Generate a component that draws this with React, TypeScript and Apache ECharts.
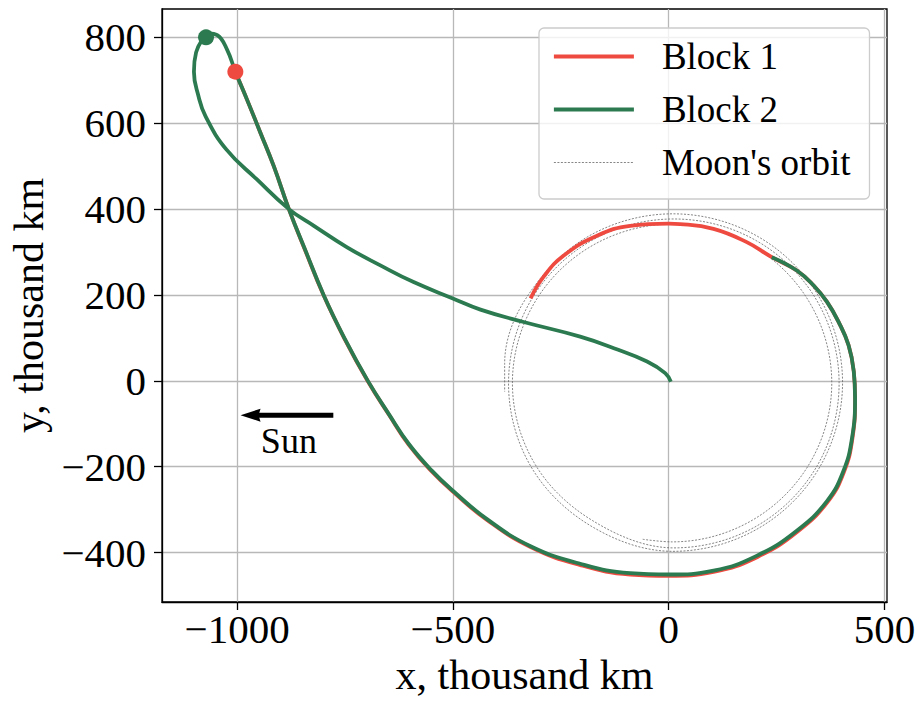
import React, { useEffect, useRef } from "react";
import * as echarts from "echarts";

const FONT = "'Liberation Serif', 'Times New Roman', Times, serif";

// Block 1 (red) trajectory, thousand km
const block1Path: number[][] = [
  [-1004, 720], [-977, 655], [-946, 578], [-915, 500], [-880, 400], [-843, 306],
  [-799, 198], [-751, 98], [-697, -1], [-648, -79], [-602, -149], [-550, -210],
  [-500, -258], [-421, -324], [-320, -387], [-205, -429], [-89, -451], [0, -454],
  [104, -445], [206, -410], [299, -351], [369, -281], [407, -210], [426, -133],
  [432, -40], [429, 22], [417, 83], [394, 137], [367, 184], [336, 222], [297, 257],
  [239, 288], [181, 323], [104, 354], [27, 365], [0, 366], [-89, 361], [-166, 338],
  [-243, 292], [-290, 242], [-320, 192],
];

// Block 2 (green) trajectory, thousand km
const block2Path: number[][] = [
  [5, -2], [-8, 18], [-50, 45], [-127, 76], [-205, 103], [-336, 137], [-436, 166],
  [-500, 192], [-591, 230], [-668, 269], [-745, 311], [-822, 361], [-880, 400],
  [-954, 469], [-1025, 539], [-1073, 616], [-1090, 665], [-1100, 720], [-1095, 765],
  [-1081, 794], [-1066, 809], [-1046, 805], [-1023, 771], [-1004, 720], [-977, 655],
  [-946, 578], [-915, 500], [-880, 400], [-843, 307], [-799, 199], [-751, 99],
  [-697, 0], [-648, -78], [-602, -147], [-550, -208], [-500, -256], [-421, -322],
  [-320, -385], [-205, -426], [-89, -448], [0, -451], [104, -442], [205, -407],
  [297, -349], [367, -280], [405, -210], [425, -133], [432, -40], [429, 22], [417, 83],
  [394, 137], [367, 184], [336, 222], [297, 257], [239, 288],
];

// Moon's orbit: one continuous track over three revolutions
const moonOrbit: number[][] = [
  [-60, -369], [8, -375], [193, -325], [328, -190], [378, -5], [328, 180], [193, 315],
  [8, 365], [-177, 315], [-312, 180], [-362, -5], [-312, -190], [-177, -325],
  [12, -389], [204, -338], [344, -198], [395, -6], [344, 186], [204, 326], [12, 377],
  [-180, 326], [-320, 186], [-371, -6], [-320, -198], [-180, -338],
  [10, -397], [207, -344], [350, -201], [403, -4], [350, 193], [207, 336], [10, 389],
  [-187, 336], [-330, 193], [-380, 40], [-380, -25],
];

const block1Marker: number[][] = [[-1004, 720]];
const block2Marker: number[][] = [[-1072, 800]];

const xTickValues = [-1000, -500, 0, 500];
const yTickValues = [-400, -200, 0, 200, 400, 600, 800];
const xRange = [-1174, 506];
const yRange = [-515, 866];

const sunArrowFrom = [-777, -80];
const sunArrowTo = [-992, -80];
const sunLabelAt = [-880, -140];
const sunLabelText = "Sun";

const legendNames = ["Block 1", "Block 2", "Moon's orbit"];

const RED = "#EF4A40";
const GREEN = "#2B7A50";
const ORBIT = "#666666";

function fmt(v: number): string {
  return v < 0 ? "\u2212" + Math.abs(v) : String(v);
}

export default function App() {
  const ref = useRef<HTMLDivElement>(null);

  useEffect(() => {
    if (!ref.current) return;
    const chart = echarts.init(ref.current, null, { renderer: "svg" });

    const orbitStyle = { color: ORBIT, width: 0.8, type: [2, 1.5] as any };
    const redStyle = { color: RED, width: 3.8, type: "solid" };
    const greenStyle = { color: GREEN, width: 3.8, type: "solid" };
    const axisLineStyle = { color: "#000", width: 1.3 };
    const splitStyle = { color: "#b8b8b8", width: 1.3 };
    const legendStyles: Record<string, any> = {
      "Block 1": redStyle,
      "Block 2": greenStyle,
      "Moon's orbit": orbitStyle,
    };

    const option: any = {
      animation: false,
      backgroundColor: "#ffffff",
      textStyle: { fontFamily: FONT },
      grid: {
        left: 162,
        top: 9,
        right: 33,
        bottom: 96,
        show: true,
        borderColor: "#000",
        borderWidth: 1.3,
        backgroundColor: "transparent",
      },
      legend: {
        data: legendNames.map((n) => ({
          name: n,
          lineStyle: legendStyles[n],
          itemStyle: { opacity: 0 },
        })),
        orient: "vertical",
        left: 539,
        top: 28,
        padding: [10, 19, 18, 13],
        itemWidth: 80,
        itemHeight: 4,
        itemGap: 16,
        selectedMode: false,
        itemStyle: { opacity: 0 },
        backgroundColor: "rgba(255,255,255,0.8)",
        borderColor: "#cccccc",
        borderWidth: 1.3,
        borderRadius: 5,
        textStyle: {
          fontFamily: FONT,
          fontSize: 37,
          color: "#000",
          padding: [0, 0, 0, 23],
        },
      },
      xAxis: {
        type: "value",
        min: xRange[0],
        max: xRange[1],
        splitNumber: 4,
        name: "x, thousand km",
        nameLocation: "middle",
        nameGap: 52,
        nameTextStyle: { fontFamily: FONT, fontSize: 42, color: "#000" },
        axisLine: { show: true, onZero: false, lineStyle: axisLineStyle },
        axisTick: { show: true, length: 8, lineStyle: axisLineStyle, customValues: xTickValues },
        axisLabel: {
          customValues: xTickValues,
          fontFamily: FONT,
          fontSize: 41,
          color: "#000",
          margin: 6,
          formatter: (v: number) => (Math.abs(v % 500) > 1e-6 ? "" : fmt(v)),
        },
        splitLine: { show: true, lineStyle: splitStyle },
      },
      yAxis: {
        type: "value",
        min: yRange[0],
        max: yRange[1],
        splitNumber: 7,
        name: "y, thousand km",
        nameLocation: "middle",
        nameGap: 96,
        nameRotate: 90,
        nameTextStyle: { fontFamily: FONT, fontSize: 42, color: "#000" },
        axisLine: { show: true, onZero: false, lineStyle: axisLineStyle },
        axisTick: { show: true, length: 8, lineStyle: axisLineStyle, customValues: yTickValues },
        axisLabel: {
          customValues: yTickValues,
          fontFamily: FONT,
          fontSize: 41,
          color: "#000",
          margin: 16,
          formatter: (v: number) => (Math.abs(v % 200) > 1e-6 ? "" : fmt(v)),
        },
        splitLine: { show: true, lineStyle: splitStyle },
      },
      series: [
        {
          type: "line",
          name: "Moon's orbit",
          data: moonOrbit,
          symbol: "none",
          smooth: 0.35,
          lineStyle: orbitStyle,
          itemStyle: { color: ORBIT },
          z: 1,
          silent: true,
        },
        {
          type: "line",
          name: "Block 1",
          data: block1Path,
          symbol: "none",
          smooth: 0.45,
          lineStyle: redStyle,
          itemStyle: { color: RED },
          z: 2,
        },
        {
          type: "line",
          name: "Block 2",
          data: block2Path,
          symbol: "none",
          smooth: 0.45,
          lineStyle: greenStyle,
          itemStyle: { color: GREEN },
          z: 3,
        },
        {
          type: "scatter",
          name: "Block 1 start",
          data: block1Marker,
          symbolSize: 16,
          itemStyle: { color: RED, opacity: 1 },
          z: 4,
        },
        {
          type: "scatter",
          name: "Block 2 start",
          data: block2Marker,
          symbolSize: 16,
          itemStyle: { color: GREEN, opacity: 1 },
          z: 4,
        },
      ],
    };

    chart.setOption(option);

    const p0 = chart.convertToPixel({ gridIndex: 0 }, sunArrowFrom) as number[];
    const p1 = chart.convertToPixel({ gridIndex: 0 }, sunArrowTo) as number[];
    const pl = chart.convertToPixel({ gridIndex: 0 }, sunLabelAt) as number[];
    const headLen = 20;
    const headHalf = 6.5;

    chart.setOption({
      graphic: [
        {
          type: "line",
          shape: { x1: p0[0], y1: p0[1], x2: p1[0] + headLen - 3, y2: p1[1] },
          style: { stroke: "#000", lineWidth: 5 },
          z: 10,
        },
        {
          type: "polygon",
          shape: {
            points: [
              [p1[0], p1[1]],
              [p1[0] + headLen, p1[1] - headHalf],
              [p1[0] + headLen - 2, p1[1]],
              [p1[0] + headLen, p1[1] + headHalf],
            ],
          },
          style: { fill: "#000" },
          z: 10,
        },
        {
          type: "text",
          x: pl[0],
          y: pl[1],
          style: {
            text: sunLabelText,
            fontFamily: FONT,
            fontSize: 36,
            fill: "#000",
            align: "center",
            verticalAlign: "middle",
            textAlign: "center",
            textVerticalAlign: "middle",
          },
          z: 10,
        },
      ],
    });

    return () => {
      chart.dispose();
    };
  }, []);

  return (
    <div
      ref={ref}
      style={{ position: "fixed", left: 0, top: 0, width: 920, height: 701, background: "#fff" }}
    />
  );
}
